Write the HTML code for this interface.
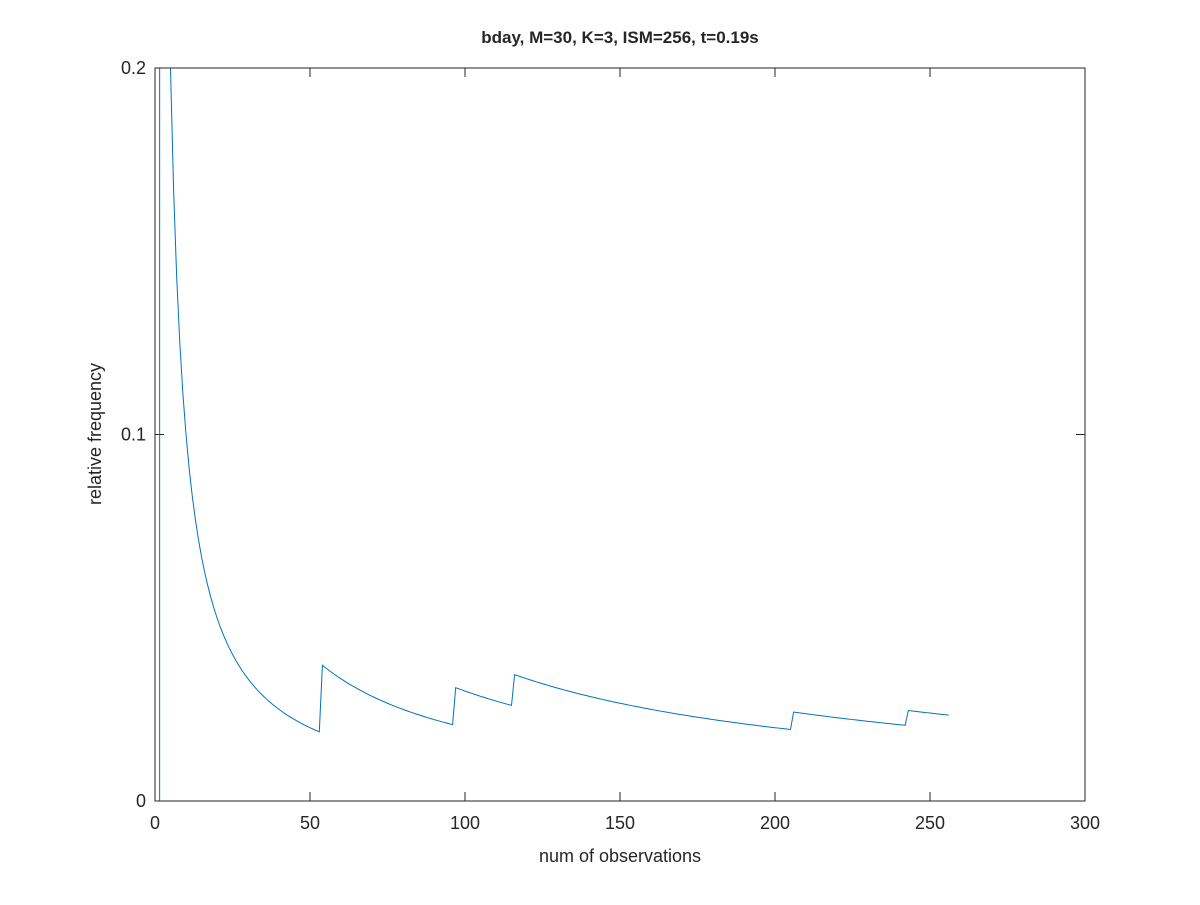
<!DOCTYPE html>
<html><head><meta charset="utf-8"><style>
body{margin:0;background:#fff;}
svg text{font-family:"Liberation Sans",sans-serif;fill:#262626;}
</style></head><body>
<svg id="chart" width="1200" height="900">
<rect width="1200" height="900" fill="#fff"/>
<text x="620" y="43" text-anchor="middle" font-size="17" font-weight="bold" fill="#000">bday, M=30, K=3, ISM=256, t=0.19s</text>
<g id="ticks"></g>
<defs><clipPath id="clip"><rect x="155" y="68" width="930" height="733"/></clipPath></defs>
<polyline id="series" fill="none" stroke="#0072bd" stroke-width="1" clip-path="url(#clip)"/>
<rect x="155" y="68" width="930" height="733" fill="none" stroke="#262626" stroke-width="1"/>
<text x="620" y="862" text-anchor="middle" font-size="18">num of observations</text>
<text transform="translate(101,434) rotate(-90)" text-anchor="middle" font-size="18">relative frequency</text>
</svg>
<script>
const xTicks=[0,50,100,150,200,250,300];
const yTicks=[0,0.1,0.2];
const yTickLabels=["0","0.1","0.2"];
const jumpAt=[2,54,97,116,206,243];
const jumpX=[1.5];
const nObs=256;
const X0=155,X1=1085,Y0=801,Y1=68;
const sx=v=>X0+(v-0)/(300-0)*(X1-X0);
const sy=v=>Y0-(v-0)/(0.2-0)*(Y0-Y1);
const g=document.getElementById('ticks');
const NS='http://www.w3.org/2000/svg';
function mk(t,a){const e=document.createElementNS(NS,t);for(const k in a)e.setAttribute(k,a[k]);g.appendChild(e);return e;}
xTicks.forEach(v=>{const x=sx(v);
mk('line',{x1:x,x2:x,y1:Y0,y2:Y0-9,stroke:'#262626'});
mk('line',{x1:x,x2:x,y1:Y1,y2:Y1+9,stroke:'#262626'});
const t=mk('text',{x:x,y:Y0+28,'text-anchor':'middle','font-size':'18'});t.textContent=v;

});
yTicks.forEach((v,i)=>{const y=sy(v);
mk('line',{x1:X0,x2:X0+9,y1:y,y2:y,stroke:'#262626'});
mk('line',{x1:X1,x2:X1-9,y1:y,y2:y,stroke:'#262626'});
const t=mk('text',{x:X0-9,y:y+6,'text-anchor':'end','font-size':'18'});t.textContent=yTickLabels[i];

});
const pts=[];
pts.push(sx(jumpX[0]).toFixed(2)+','+sy(0).toFixed(2));
pts.push(sx(jumpX[0]).toFixed(2)+','+(Y1-50));
for(let n=2;n<=nObs;n++){const c=jumpAt.filter(j=>j<=n).length;pts.push(sx(n).toFixed(2)+','+sy(c/n).toFixed(2));}
document.getElementById('series').setAttribute('points',pts.join(' '));
</script>
</body></html>
